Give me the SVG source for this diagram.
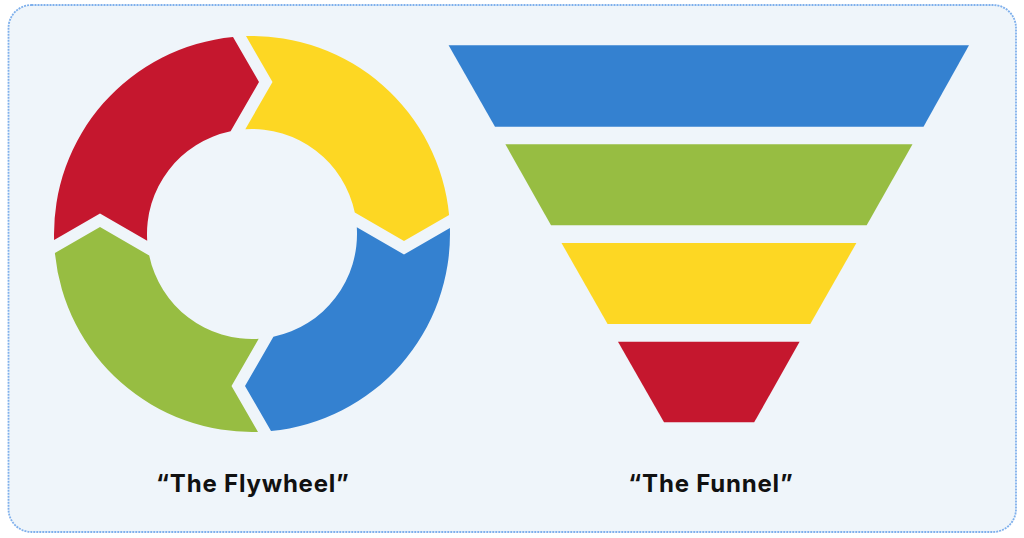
<svg xmlns="http://www.w3.org/2000/svg" xmlns:xlink="http://www.w3.org/1999/xlink" width="1024" height="538" viewBox="0 0 1024 538">
  <style>
    .frame { fill: #EFF5FA; stroke: #7FB0EC; stroke-width: 1.8; stroke-dasharray: 2 1; }
    .label { font-family: "Inter", "Open Sans", "Liberation Sans", sans-serif; font-weight: 700; font-size: 24px; letter-spacing: 0.8px; fill: #111111; text-anchor: middle; }
    .blue { fill: #3481D0; }
    .green { fill: #97BD42; }
    .yellow { fill: #FDD723; }
    .red { fill: #C5172E; }
  </style>
  <defs>
    <path id="seg" d="M246,36.1 A198,198 0 0 1 449.1,215 L404,241 L354.8,212.6 A105,105 0 0 0 245.3,129.2 L272.5,82 Z"/>
  </defs>
  <rect width="1024" height="538" fill="#FFFFFF"/>
  <rect class="frame" x="8.5" y="5" width="1007.5" height="527" rx="23" ry="23"/>

  <g id="flywheel">
    <g id="fly-yellow"><use xlink:href="#seg" class="yellow"/></g>
    <g id="fly-blue"><use xlink:href="#seg" class="blue" transform="rotate(90 252 234)"/></g>
    <g id="fly-green"><use xlink:href="#seg" class="green" transform="rotate(180 252 234)"/></g>
    <g id="fly-red"><use xlink:href="#seg" class="red" transform="rotate(270 252 234)"/></g>
  </g>

  <g id="funnel">
    <g id="funnel-blue"><polygon class="blue" points="448.6,45.3 969,45.3 923.5,126.7 495,126.7"/></g>
    <g id="funnel-green"><polygon class="green" points="505.4,144.3 912.5,144.3 866.7,225.3 551,225.3"/></g>
    <g id="funnel-yellow"><polygon class="yellow" points="561.5,243 856.4,243 810.3,324 607.6,324"/></g>
    <g id="funnel-red"><polygon class="red" points="618,341.7 799.6,341.7 754.2,422.3 664,422.3"/></g>
  </g>

  <g id="connectors"></g>

  <g id="labels">
    <text id="label-flywheel" class="label" x="252.9" y="492">“The Flywheel”</text>
    <text id="label-funnel" class="label" x="710.9" y="492">“The Funnel”</text>
  </g>
</svg>
